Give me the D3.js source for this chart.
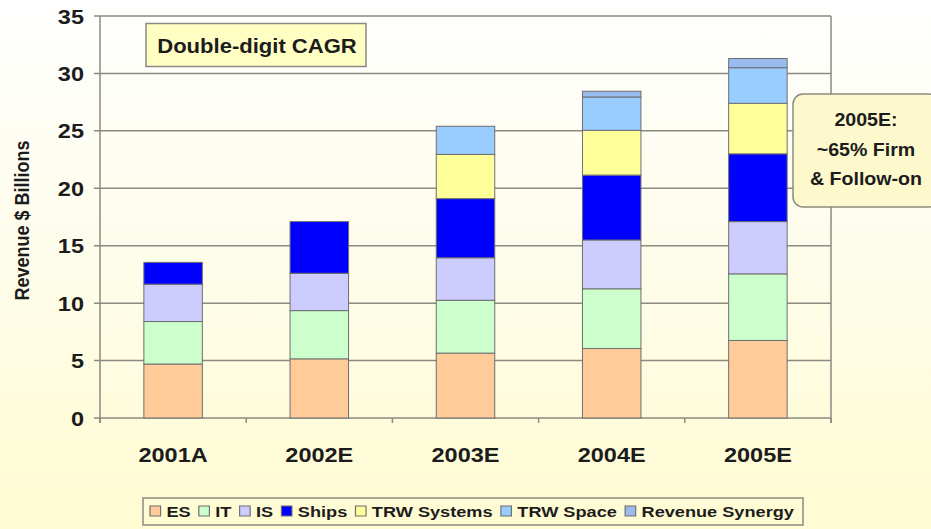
<!DOCTYPE html>
<html>
<head>
  <title>Revenue stacked bars</title>
  <style type="text/css">
    body { margin: 0; }
    svg { display: block; font-family: Arial, "Liberation Sans", sans-serif; }
  </style>
</head>
<body>

<div id="chart"></div>

<script src="https://d3js.org/d3.v7.min.js"></script>
<script type="text/javascript">
var years = ["2001A", "2002E", "2003E", "2004E", "2005E"];
var segments = ["ES", "IT", "IS", "Ships", "TRW Systems", "TRW Space", "Revenue Synergy"];
var colors = ["#FFCC99", "#CCFFCC", "#CCCCFF", "#0000FF", "#FFFF99", "#99CCFF", "#99BBEE"];

var es        = [4.7, 5.15, 5.65, 6.05, 6.75];
var it        = [3.7, 4.2, 4.6, 5.2, 5.8];
var is        = [3.25, 3.25, 3.7, 4.25, 4.55];
var ships     = [1.9, 4.5, 5.15, 5.65, 5.9];
var trwSys    = [0, 0, 3.85, 3.9, 4.4];
var trwSpace  = [0, 0, 2.45, 2.9, 3.1];
var synergy   = [0, 0, 0, 0.5, 0.8];
var yTicks = [0, 5, 10, 15, 20, 25, 30, 35];

var width = 931, height = 529;
var margin = {top: 16, left: 100, right: 100, bottom: 111};
var ink = "#1c1c1c", grid = "#8a8a80";
var sx = 1.12; // the source is a little wider than tall

var rows = years.map(function(y, i) {
  return {year: y, "ES": es[i], "IT": it[i], "IS": is[i], "Ships": ships[i],
    "TRW Systems": trwSys[i], "TRW Space": trwSpace[i], "Revenue Synergy": synergy[i]};
});
var stacked = d3.stack().keys(segments)(rows);

var svg = d3.select("#chart")
  .append("svg")
  .attr("width", width)
  .attr("height", height);

var grad = svg.append("defs").append("linearGradient")
  .attr("id", "bg").attr("x1", 0).attr("y1", 0).attr("x2", 0).attr("y2", 1);
grad.append("stop").attr("offset", "0%").attr("stop-color", "#ffffff");
grad.append("stop").attr("offset", "45%").attr("stop-color", "#fefdec");
grad.append("stop").attr("offset", "100%").attr("stop-color", "#fffbd2");

svg.append("rect").attr("width", width).attr("height", height).attr("fill", "url(#bg)");

var x = d3.scaleBand().domain(years)
  .range([margin.left, width - margin.right])
  .paddingInner(0.6).paddingOuter(0.3);
var y = d3.scaleLinear().domain([0, 35]).range([height - margin.bottom, margin.top]);

// gridlines
svg.append("g")
  .selectAll("line")
  .data(yTicks)
  .enter().append("line")
    .attr("x1", margin.left - 6)
    .attr("x2", width - margin.right)
    .attr("y1", d => y(d))
    .attr("y2", d => y(d))
    .attr("stroke", grid)
    .attr("stroke-width", 1.5);

// left axis and right frame
[margin.left, width - margin.right].forEach(function(px) {
  svg.append("line")
    .attr("x1", px).attr("x2", px)
    .attr("y1", y(35)).attr("y2", y(0) + 5)
    .attr("stroke", grid).attr("stroke-width", 1.5);
});

// x ticks between categories
var xb = d3.range(years.length + 1).map(i => margin.left + i * (width - margin.left - margin.right) / years.length);
svg.append("g")
  .selectAll("line")
  .data(xb)
  .enter().append("line")
    .attr("x1", d => d).attr("x2", d => d)
    .attr("y1", y(0)).attr("y2", y(0) + 5)
    .attr("stroke", grid).attr("stroke-width", 1.5);

// bars
svg.append("g")
  .selectAll("g")
  .data(stacked)
  .enter().append("g")
    .attr("fill", (d, i) => colors[i])
  .selectAll("rect")
  .data(d => d.filter(s => s[1] - s[0] > 0))
  .enter().append("rect")
    .attr("x", d => x(d.data.year))
    .attr("width", x.bandwidth())
    .attr("y", d => y(d[1]))
    .attr("height", d => y(d[0]) - y(d[1]))
    .attr("stroke", "#6f6f6f")
    .attr("stroke-width", 1);

// y tick labels
svg.append("g")
  .selectAll("text")
  .data(yTicks)
  .enter().append("text")
    .attr("transform", d => "translate(84," + (y(d) + 7.5) + ")scale(" + sx + ",1)")
    .attr("text-anchor", "end")
    .attr("font-size", 21)
    .attr("font-weight", "bold")
    .attr("fill", ink)
    .text(d => d);

// x labels
svg.append("g")
  .selectAll("text")
  .data(years)
  .enter().append("text")
    .attr("transform", d => "translate(" + (x(d) + x.bandwidth() / 2) + ",462)scale(" + sx + ",1)")
    .attr("text-anchor", "middle")
    .attr("font-size", 21)
    .attr("font-weight", "bold")
    .attr("fill", ink)
    .text(d => d);

// y axis title
svg.append("text")
  .attr("transform", "translate(29," + y(17.2) + ")scale(" + sx + ",1)rotate(-90)")
  .attr("text-anchor", "middle")
  .attr("font-size", 18)
  .attr("font-weight", "bold")
  .attr("fill", ink)
  .text("Revenue $ Billions");

// headline box
svg.append("rect")
  .attr("x", 146).attr("y", 23.5).attr("width", 220).attr("height", 43)
  .attr("fill", "#ffffc4").attr("stroke", grid).attr("stroke-width", 1.5);
svg.append("text")
  .attr("transform", "translate(257,53)scale(1.05,1)")
  .attr("text-anchor", "middle")
  .attr("font-size", 21)
  .attr("font-weight", "bold")
  .attr("fill", ink)
  .text("Double-digit CAGR");

// callout
svg.append("rect")
  .attr("x", 793).attr("y", 94).attr("width", 146).attr("height", 113)
  .attr("rx", 10).attr("ry", 10)
  .attr("fill", "#fdf9cc").attr("stroke", grid).attr("stroke-width", 1.5);
["2005E:", "~65% Firm", "& Follow-on"].forEach(function(t, i) {
  svg.append("text")
    .attr("transform", "translate(866," + (126 + i * 29.5) + ")scale(1.06,1)")
    .attr("text-anchor", "middle")
    .attr("font-size", 18.5)
    .attr("font-weight", "bold")
    .attr("fill", ink)
    .text(t);
});

// legend
svg.append("rect")
  .attr("x", 143).attr("y", 498).attr("width", 660).attr("height", 27)
  .attr("fill", "none").attr("stroke", grid).attr("stroke-width", 1.5);
var items = svg.append("g");
var lx = 0;
segments.forEach(function(s, i) {
  items.append("rect")
    .attr("x", lx).attr("y", 506).attr("width", 9).attr("height", 10)
    .attr("fill", colors[i]).attr("stroke", "#6f6f6f").attr("stroke-width", 1);
  var t = items.append("text")
    .attr("x", lx + 14).attr("y", 517.5)
    .attr("font-size", 15.5)
    .attr("font-weight", "bold")
    .attr("fill", ink)
    .text(s);
  lx += 14 + t.node().getComputedTextLength() + (i < segments.length - 1 ? 7 : 0);
});
var ls = (794 - 150) / lx;
items.attr("transform", "translate(150,0)scale(" + ls + ",1)");
</script>
</body>
</html>
